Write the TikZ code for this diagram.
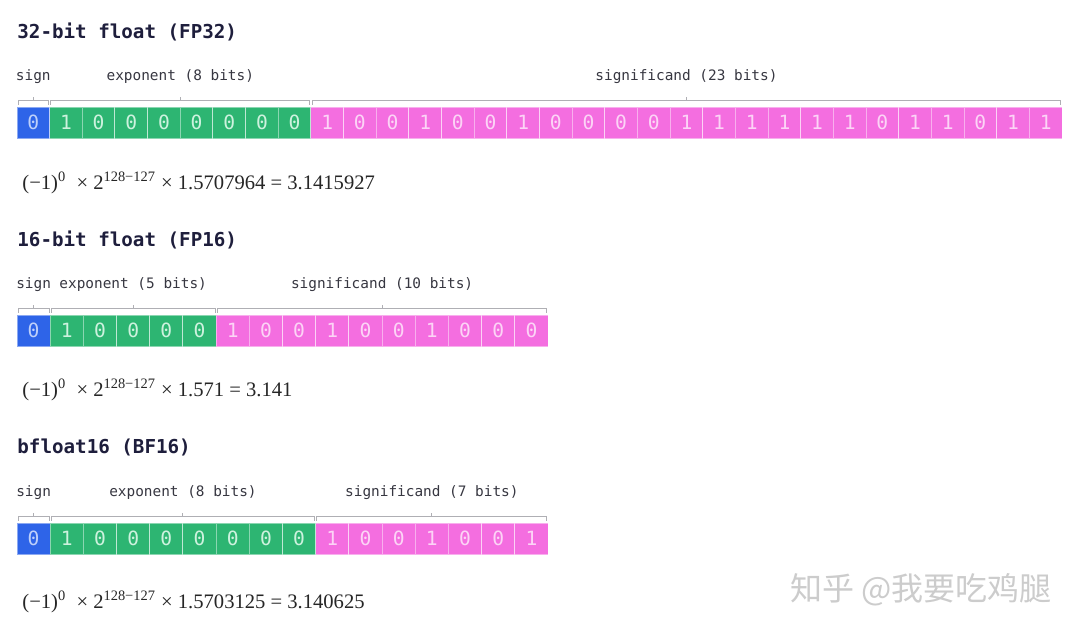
\documentclass[tikz,border=0pt]{standalone}
\usepackage{fontspec}
\newfontfamily\monof{DejaVu Sans Mono}
\newfontfamily\cjkf{Noto Sans CJK SC}
\newfontfamily\fmlf{Liberation Serif}
\usetikzlibrary{calc}
\definecolor{signc}{RGB}{46,100,232}
\definecolor{expc}{RGB}{45,181,114}
\definecolor{sigc}{RGB}{244,110,224}
\definecolor{signt}{RGB}{190,208,250}
\definecolor{expt}{RGB}{205,242,222}
\definecolor{sigt}{RGB}{252,212,246}
\definecolor{ttlc}{RGB}{30,30,60}
\definecolor{lblc}{RGB}{55,55,65}
\definecolor{brkc}{RGB}{175,175,180}
\tikzset{
  cell/.style={draw=white, draw opacity=0.45, line width=0.5pt, inner sep=0pt,
    minimum height=15.75pt, font=\monof\fontsize{9.8}{10}\selectfont},
  brk/.style={draw=brkc, line width=0.5pt},
  lbl/.style={font=\monof\fontsize{7.2}{8}\selectfont, text=lblc, inner sep=0pt},
  ttl/.style={font=\monof\bfseries\fontsize{9.6}{11}\selectfont, text=ttlc, inner sep=0pt},
  fml/.style={font=\fmlf\fontsize{10.3}{12}\selectfont, text=black!85, inner sep=0pt},
  wm/.style={font=\cjkf\fontsize{16}{18}\selectfont, text=black!20, inner sep=0pt}
}
\newcommand{\sups}[1]{\textsuperscript{#1}}
% #1 name, #2 x0, #3 ytop, #4 cell width (px), #5 number of exponent bits, #6 bits
\newcommand{\bitrow}[6]{%
  \foreach \b [count=\i from 0] in {#6} {%
    \pgfmathsetmacro\xc{#2+(\i+0.5)*#4}%
    \ifnum\i=0 \def\cc{signc}\def\ct{signt}%
    \else\ifnum\i>#5 \def\cc{sigc}\def\ct{sigt}%
    \else\def\cc{expc}\def\ct{expt}\fi\fi
    \node[cell, fill=\cc, text=\ct, minimum width=#4*0.5pt] (#1-\i) at (\xc,#3+15.75) {\b};
  }%
}
% #1 first node, #2 last node, #3 label name, #4 label text
\newcommand{\grp}[4]{%
  \coordinate (#3m) at ($(#1.north west)!0.5!(#2.north east)$);
  \draw[brk] ([xshift=0.8pt,yshift=1pt]#1.north west) -- ([xshift=0.8pt,yshift=3pt]#1.north west)
    -- ([xshift=-0.8pt,yshift=3pt]#2.north east) -- ([xshift=-0.8pt,yshift=1pt]#2.north east);
  \draw[brk] ([yshift=3pt]#3m) -- ([yshift=5pt]#3m);
  \node[lbl, anchor=base] (#3) at ([yshift=13pt]#3m) {#4};
}
\begin{document}
\begin{tikzpicture}[x=0.5pt, y=-0.5pt]
\useasboundingbox (0,0) rectangle (1080,633);
\fill[white] (0,0) rectangle (1080,633);

% FP32
\node[ttl, anchor=base west] (t32) at (17,38) {32-bit float (FP32)};
\bitrow{a}{17}{107}{32.656}{8}{0,1,0,0,0,0,0,0,0,1,0,0,1,0,0,1,0,0,0,0,1,1,1,1,1,1,0,1,1,0,1,1}
\grp{a-0}{a-0}{as}{sign}
\grp{a-1}{a-8}{ae}{exponent (8 bits)}
\grp{a-9}{a-31}{am}{significand (23 bits)}
\node[fml, anchor=base west] (f32) at (22,189) {(−1)\sups{0}\ \ × 2\sups{128−127} × 1.5707964 = 3.1415927};

% FP16
\node[ttl, anchor=base west] (t16) at (17,246) {16-bit float (FP16)};
\bitrow{b}{17}{315}{33.19}{5}{0,1,0,0,0,0,1,0,0,1,0,0,1,0,0,0}
\grp{b-0}{b-0}{bs}{sign}
\grp{b-1}{b-5}{be}{exponent (5 bits)}
\grp{b-6}{b-15}{bm}{significand (10 bits)}
\node[fml, anchor=base west] (f16) at (22,396) {(−1)\sups{0}\ \ × 2\sups{128−127} × 1.571 = 3.141};

% BF16
\node[ttl, anchor=base west] (tb16) at (17,453) {bfloat16 (BF16)};
\bitrow{c}{17}{523}{33.19}{8}{0,1,0,0,0,0,0,0,0,1,0,0,1,0,0,1}
\grp{c-0}{c-0}{cs}{sign}
\grp{c-1}{c-8}{ce}{exponent (8 bits)}
\grp{c-9}{c-15}{cm}{significand (7 bits)}
\node[fml, anchor=base west] (fb16) at (22,608) {(−1)\sups{0}\ \ × 2\sups{128−127} × 1.5703125 = 3.140625};

% watermark
\node[wm, anchor=west] (wm) at (790,590) {知乎 @我要吃鸡腿};
\end{tikzpicture}
\end{document}
